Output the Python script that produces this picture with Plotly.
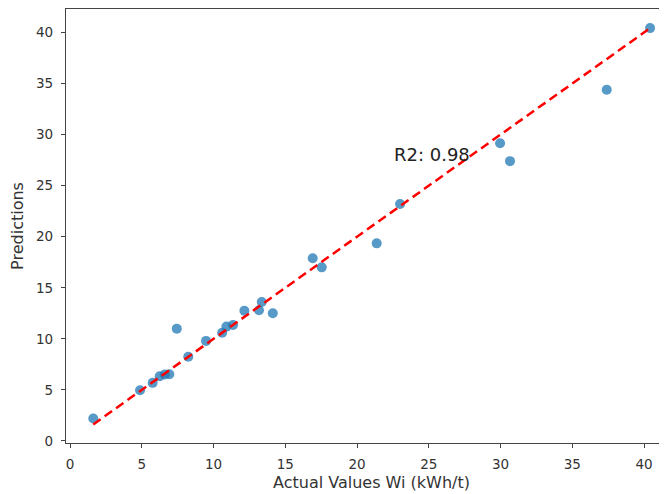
import plotly.graph_objects as go

actual = [1.62, 4.88, 5.76, 6.25, 6.6, 6.92, 7.44, 8.24, 9.48, 10.6, 10.9, 11.36,
          12.15, 13.17, 13.36, 14.13, 16.91, 17.54, 21.37, 23.0, 29.97, 30.66, 37.4, 40.42]
predicted = [2.2, 4.97, 5.69, 6.34, 6.5, 6.54, 11.0, 8.24, 9.8, 10.6, 11.2, 11.35,
             12.75, 12.8, 13.6, 12.5, 17.9, 17.0, 19.35, 23.2, 29.16, 27.4, 34.4, 40.43]
r2_label = "R2: 0.98"
x_title = "Actual Values Wi (kWh/t)"
y_title = "Predictions"
tick_vals = [0, 5, 10, 15, 20, 25, 30, 35, 40]

lo, hi = min(actual), max(actual)

fig = go.Figure()
fig.add_trace(go.Scatter(
    x=actual, y=predicted, mode="markers",
    marker=dict(color="#1f77b4", size=10, opacity=0.75, line=dict(width=0)),
    showlegend=False, cliponaxis=True))
fig.add_trace(go.Scatter(
    x=[lo, hi], y=[lo, hi], mode="lines",
    line=dict(color="#ff0000", width=2.5, dash="9px,5px"),
    showlegend=False))

fig.add_annotation(x=22.45, y=28.1, text=r2_label, showarrow=False,
                   xanchor="left", yanchor="middle",
                   font=dict(family="DejaVu Sans", size=18, color="#222"))

# x-axis title (centred on the full axes box, part of which is off-page)
fig.add_annotation(xref="paper", yref="paper", x=0.509, y=-0.092,
                   text=x_title, showarrow=False, xanchor="center", yanchor="middle",
                   font=dict(family="DejaVu Sans", size=16, color="#333"))

axis_common = dict(
    showgrid=False, zeroline=False, showline=True, linecolor="#444", linewidth=1.2,
    ticks="outside", ticklen=4, tickcolor="#444", tickwidth=1, automargin=False,
    ticklabelstandoff=5,
    tickvals=tick_vals, tickfont=dict(family="DejaVu Sans", size=13.5, color="#333"),
)
fig.update_xaxes(range=[-0.28, 41.6], mirror=True, **axis_common)
fig.update_yaxes(range=[-0.2, 42.3], mirror=False,
                 title=dict(text=y_title, font=dict(family="DejaVu Sans", size=16, color="#333"), standoff=10),
                 **axis_common)

fig.update_layout(
    width=659, height=486,
    margin=dict(l=58, r=0, t=1, b=51),
    plot_bgcolor="white", paper_bgcolor="white",
)
fig.write_html("out.html")
